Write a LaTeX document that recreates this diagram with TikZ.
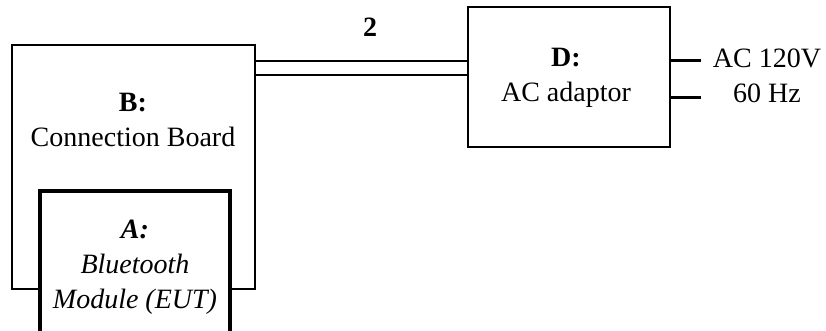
\documentclass[tikz,border=0pt]{standalone}
\usepackage{fontspec}
\setmainfont{Liberation Serif}
\usetikzlibrary{positioning}

\begin{document}
\begin{tikzpicture}[x=0.5pt, y=-0.5pt, font=\fontsize{14}{17.5}\selectfont,
    box/.style={draw, line width=0.8pt, inner sep=0pt},
    txt/.style={align=center, inner sep=0pt},
    mains/.style={line width=1.5pt}]
    \useasboundingbox (0,0) rectangle (826,331);

    % boxes
    \node[box, minimum width=121.5pt, minimum height=122pt] (b) at (133.5,167) {};
    \node[box, fill=white, line width=1.6pt, minimum width=95pt, minimum height=80pt] (a) at (135,271) {};
    \node[box, minimum width=101pt, minimum height=70pt] (d) at (569,77) {};

    % texts
    \node[txt] (btext) at (133,120) {\textbf{B:}\\Connection Board};
    \node[txt] (atext) at (135,267) {\textbf{\textit{A:}}\\\textit{Bluetooth}\\\textit{Module (EUT)}};
    \node[txt] (dtext) at (566,78) {\textbf{D:}\\AC adaptor};
    \node[txt] (power) at (767,76) {AC 120V\\60 Hz};

    % cable 2
    \draw[line width=0.8pt] ([yshift=-8.5pt]b.north east) coordinate (c1) -- (c1 -| d.west);
    \draw[line width=0.8pt] ([yshift=-15.5pt]b.north east) coordinate (c2) -- (c2 -| d.west);
    \node[txt] (two) at (370,27) {\textbf{2}};

    % mains
    \draw[mains] ([yshift=8pt]d.east) -- ++(15pt,0);
    \draw[mains] ([yshift=-10.5pt]d.east) -- ++(15pt,0);
\end{tikzpicture}
\end{document}
